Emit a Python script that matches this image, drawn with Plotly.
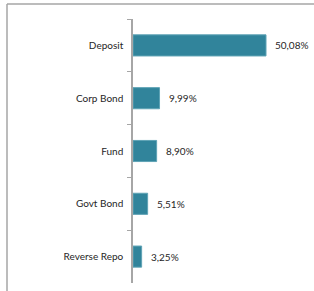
import plotly.graph_objects as go

categories = ["Deposit", "Corp Bond", "Fund", "Govt Bond", "Reverse Repo"]
values = [50.08, 9.99, 8.90, 5.51, 3.25]
labels = ["50,08%", "9,99%", "8,90%", "5,51%", "3,25%"]

W, H = 314, 291
BAR = "#31849B"
GRID = "#A6A6A6"
FONT = "Lato"

fig = go.Figure()
fig.add_trace(go.Bar(
    x=values, y=categories, orientation="h",
    marker=dict(color=BAR, line=dict(color="#5FA3B5", width=1)),
    width=0.4, hoverinfo="skip",
))

for c, v, t in zip(categories, values, labels):
    fig.add_annotation(x=v, y=c, text=t, showarrow=False, xanchor="left",
                       xshift=7, font=dict(family=FONT, size=10, color="#262626"))

x0 = 133 / W
fig.update_layout(
    template="none",
    width=W, height=H, margin=dict(l=0, r=0, t=0, b=0),
    paper_bgcolor="white", plot_bgcolor="white", showlegend=False,
    xaxis=dict(domain=[x0, 1], range=[0, (W - 133) / (133 / 50.08)],
               visible=False, fixedrange=True, automargin=False),
    yaxis=dict(domain=[1 - 283 / H, 1 - 19 / H], autorange="reversed",
               automargin=False,
               showline=True, linecolor=GRID, linewidth=1.5,
               ticks="outside", tickson="boundaries", ticklen=4,
               tickcolor=GRID, tickwidth=1, ticklabelstandoff=6,
               tickfont=dict(family=FONT, size=10, color="#262626"),
               showgrid=False, zeroline=False, fixedrange=True),
    shapes=[
        dict(type="line", xref="paper", yref="paper", x0=7 / W, x1=1,
             y0=1 - 4 / H, y1=1 - 4 / H, line=dict(color=GRID, width=1.5)),
        dict(type="line", xref="paper", yref="paper", x0=7 / W, x1=7 / W,
             y0=0, y1=1 - 4 / H, line=dict(color=GRID, width=1.5)),
    ],
)

fig.write_html("out.html", config={"displayModeBar": False},
               post_script="document.body.style.margin='0';document.body.style.overflow='hidden';")
